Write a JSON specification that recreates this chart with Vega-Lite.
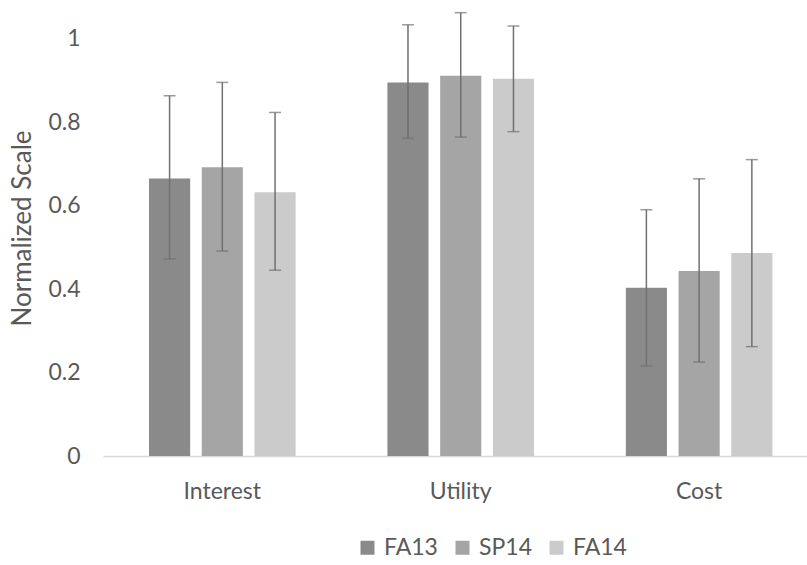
{
  "$schema": "https://vega.github.io/schema/vega-lite/v6.json",
  "autosize": {"type": "none"},
  "padding": {"left": 103, "top": 6, "right": 0, "bottom": 109},
  "width": 704,
  "height": 450,
  "background": "white",
  "config": {"view": {"stroke": null}, "font": "Lato"},
  "data": {"values": [
    {"category": "Interest", "term": "FA13", "value": 0.665, "lo": 0.472, "hi": 0.863},
    {"category": "Interest", "term": "SP14", "value": 0.692, "lo": 0.491, "hi": 0.895},
    {"category": "Interest", "term": "FA14", "value": 0.632, "lo": 0.445, "hi": 0.823},
    {"category": "Utility", "term": "FA13", "value": 0.895, "lo": 0.761, "hi": 1.033},
    {"category": "Utility", "term": "SP14", "value": 0.911, "lo": 0.764, "hi": 1.062},
    {"category": "Utility", "term": "FA14", "value": 0.904, "lo": 0.777, "hi": 1.030},
    {"category": "Cost", "term": "FA13", "value": 0.403, "lo": 0.216, "hi": 0.590},
    {"category": "Cost", "term": "SP14", "value": 0.443, "lo": 0.225, "hi": 0.664},
    {"category": "Cost", "term": "FA14", "value": 0.486, "lo": 0.262, "hi": 0.710}
  ]},
  "encoding": {
    "x": {
      "field": "category", "type": "nominal", "sort": ["Interest", "Utility", "Cost"],
      "scale": {"paddingInner": 0.385, "paddingOuter": 0.169, "align": 0.571},
      "axis": {"title": null, "labelAngle": 0, "tickSize": 0, "labelPadding": 24, "labelFontSize": 23, "labelColor": "#595959", "domainColor": "#d9d9d9", "domainWidth": 1.5}
    },
    "xOffset": {"field": "term", "type": "nominal", "sort": ["FA13", "SP14", "FA14"], "scale": {"paddingInner": 0.22, "paddingOuter": 0}}
  },
  "layer": [
    {
      "mark": {"type": "bar"},
      "encoding": {
        "y": {
          "field": "value", "type": "quantitative",
          "scale": {"domain": [0, 1.078], "nice": false},
          "axis": {"values": [0, 0.2, 0.4, 0.6, 0.8, 1], "format": "~g", "grid": false, "domain": false, "ticks": false, "labelPadding": 23, "labelFontSize": 23, "labelColor": "#595959", "title": "Normalized Scale", "titleFontSize": 26, "titleFontWeight": "normal", "titleColor": "#595959", "titleAngle": -90, "titleX": -81, "titleY": 222, "titleAlign": "center", "titleBaseline": "middle"}
        },
        "color": {
          "field": "term", "type": "nominal", "sort": ["FA13", "SP14", "FA14"],
          "scale": {"domain": ["FA13", "SP14", "FA14"], "range": ["#8a8a8a", "#a5a5a5", "#cbcbcb"]},
          "legend": {"title": null, "orient": "none", "direction": "horizontal", "legendX": 253, "legendY": 530, "symbolType": "square", "symbolSize": 196, "symbolStrokeWidth": 0, "labelFontSize": 23, "labelColor": "#595959", "labelOffset": 5, "columnPadding": 13}
        }
      }
    },
    {
      "mark": {"type": "rule", "color": "#707070", "strokeWidth": 1.5},
      "encoding": {"y": {"field": "lo", "type": "quantitative"}, "y2": {"field": "hi"}}
    },
    {
      "mark": {"type": "tick", "color": "#707070", "thickness": 1.5, "size": 12},
      "encoding": {"y": {"field": "lo", "type": "quantitative"}}
    },
    {
      "mark": {"type": "tick", "color": "#707070", "thickness": 1.5, "size": 12},
      "encoding": {"y": {"field": "hi", "type": "quantitative"}}
    }
  ]
}
